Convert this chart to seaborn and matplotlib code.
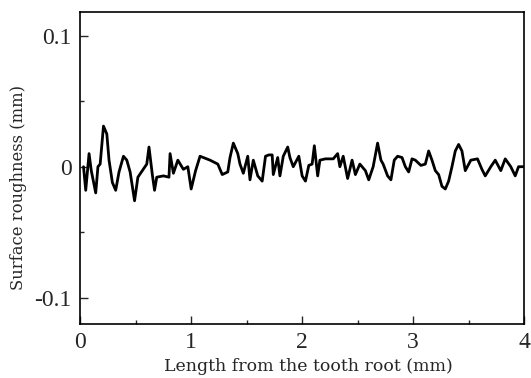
import numpy as np
import pandas as pd
import seaborn as sns
import matplotlib.pyplot as plt
from matplotlib.ticker import MultipleLocator

# profile (mm)
length_mm = [0.03, 0.05, 0.08, 0.10, 0.14, 0.16, 0.18, 0.21, 0.24, 0.26, 0.29, 0.32, 0.35,
             0.39, 0.42, 0.45, 0.49, 0.52, 0.56, 0.60, 0.62, 0.65, 0.67, 0.69, 0.75, 0.80,
             0.81, 0.84, 0.88, 0.93, 0.97, 1.00, 1.04, 1.08, 1.17, 1.24, 1.28, 1.33,
             1.35, 1.38, 1.42, 1.44, 1.47, 1.51, 1.53, 1.56, 1.60, 1.64, 1.67, 1.70, 1.73,
             1.74, 1.78, 1.80, 1.83, 1.87, 1.89, 1.92, 1.97, 2.00, 2.03, 2.06, 2.09, 2.11,
             2.14, 2.16, 2.21, 2.28, 2.32, 2.34, 2.37, 2.41, 2.45, 2.48, 2.52, 2.57, 2.60,
             2.64, 2.68, 2.71, 2.73, 2.77, 2.80, 2.83, 2.86, 2.90, 2.93, 2.96, 2.99, 3.02,
             3.07, 3.11, 3.14, 3.17, 3.20, 3.23, 3.26, 3.29, 3.32, 3.35, 3.38, 3.41, 3.44,
             3.47, 3.52, 3.58, 3.62, 3.65, 3.70, 3.74, 3.79, 3.83, 3.88, 3.92, 3.95, 3.99]
roughness_mm = [0.000, -0.018, 0.010, -0.003, -0.020, 0.000, 0.002, 0.031, 0.025, 0.005, -0.012, -0.018, -0.004,
                0.008, 0.005, -0.004, -0.026, -0.008, -0.003, 0.002, 0.015, -0.006, -0.018, -0.008, -0.007, -0.008,
                0.010, -0.005, 0.005, -0.002, 0.000, -0.017, -0.003, 0.008, 0.005, 0.002, -0.006, -0.004,
                0.007, 0.018, 0.010, 0.002, -0.005, 0.008, -0.010, 0.005, -0.007, -0.011, 0.008, 0.009, 0.009,
                -0.006, 0.007, -0.007, 0.008, 0.015, 0.007, 0.000, 0.008, -0.007, -0.011, 0.001, 0.002, 0.016,
                -0.007, 0.005, 0.006, 0.006, 0.010, 0.000, 0.008, -0.009, 0.005, -0.006, 0.002, -0.003, -0.010,
                0.000, 0.018, 0.005, 0.002, -0.007, -0.010, 0.005, 0.008, 0.007, 0.000, -0.004, 0.006, 0.005,
                0.001, 0.002, 0.012, 0.005, -0.003, -0.006, -0.015, -0.017, -0.011, 0.000, 0.012, 0.017, 0.012,
                -0.003, 0.005, 0.006, -0.002, -0.007, 0.000, 0.005, -0.003, 0.006, 0.000, -0.007, 0.000, 0.000]
x_ticks = [0, 1, 2, 3, 4]
y_ticks = [-0.1, 0, 0.1]
y_tick_labels = ["-0.1", "0", "0.1"]

df = pd.DataFrame({"Length": length_mm, "Roughness": roughness_mm})

sns.set_theme(style="ticks")
plt.rcParams['font.family'] = ['Liberation Serif', 'DejaVu Serif']

fig = plt.figure(figsize=(5.31, 3.78), dpi=100)
ax = fig.add_axes([0.151, 0.143, 0.836, 0.825])

sns.lineplot(data=df, x="Length", y="Roughness", ax=ax, color="black",
             linewidth=2.0, estimator=None)

ax.set_xlim(0, 4)
ax.set_ylim(-0.12, 0.118)
ax.set_xticks(x_ticks)
ax.set_xticklabels([str(t) for t in x_ticks])
ax.xaxis.set_minor_locator(MultipleLocator(0.5))
ax.set_yticks(y_ticks)
ax.set_yticklabels(y_tick_labels)
ax.yaxis.set_minor_locator(MultipleLocator(0.05))
ax.tick_params(which="both", direction="in", top=False, right=False, labelsize=17, width=1)
ax.tick_params(which="major", length=6, pad=6)
ax.tick_params(which="minor", length=3)
for s in ax.spines.values():
    s.set_linewidth(1.2)
    s.set_color("black")

ax.set_xlabel("Length from the tooth root (mm)", fontsize=12.5, family="DejaVu Serif")
ax.set_ylabel("Surface roughness (mm)", fontsize=11.8, family="DejaVu Serif")
ax.xaxis.set_label_coords(0.515, -0.11)
ax.yaxis.set_label_coords(-0.12, 0.4375)

fig.savefig("out.png", dpi=100)
